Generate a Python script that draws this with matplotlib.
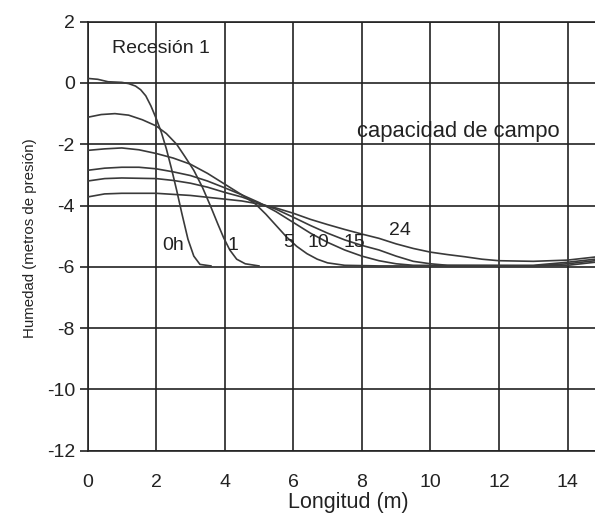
import matplotlib
matplotlib.use("Agg")
import matplotlib.pyplot as plt

plt.rcParams['font.family'] = ['Liberation Sans', 'DejaVu Sans']
plt.rcParams['axes.unicode_minus'] = False

# perfiles de humedad a distintos tiempos (h)
x_0h = [0, 0.3, 0.6, 1.0, 1.2, 1.4, 1.55, 1.7, 1.85, 2.0, 2.15, 2.3, 2.45, 2.6, 2.75, 2.93, 3.1, 3.28, 3.6]
y_0h = [0.15, 0.12, 0.04, 0.02, -0.02, -0.1, -0.22, -0.42, -0.75, -1.15, -1.6, -2.15, -2.8, -3.5, -4.25,
        -5.1, -5.65, -5.92, -5.97]

x_1 = [0, 0.4, 0.8, 1.2, 1.6, 2.0, 2.3, 2.6, 2.84, 3.1, 3.35, 3.6, 3.8, 3.97, 4.15, 4.35, 4.6, 5.0]
y_1 = [-1.12, -1.03, -1.0, -1.05, -1.2, -1.4, -1.65, -2.0, -2.4, -2.85, -3.4, -4.05, -4.6, -5.05, -5.45,
       -5.75, -5.9, -5.97]

x_5 = [0, 0.5, 1.0, 1.5, 2.0, 2.5, 3.0, 3.5, 4.0, 4.5, 4.9, 5.2, 5.5, 5.8, 6.1, 6.4, 6.7, 7.0, 7.5, 8.5,
       13.0, 14.0, 14.8]
y_5 = [-2.2, -2.15, -2.12, -2.18, -2.3, -2.45, -2.65, -2.95, -3.3, -3.65, -3.95, -4.28, -4.65, -5.02, -5.33,
       -5.57, -5.75, -5.87, -5.95, -5.97, -5.97, -5.95, -5.85]

x_10 = [0, 0.5, 1.0, 1.5, 2.0, 2.5, 3.0, 3.5, 4.0, 4.5, 5.0, 5.5, 6.0, 6.5, 7.0, 7.5, 8.0, 8.5, 9.0, 9.5,
        13.0, 14.0, 14.8]
y_10 = [-2.85, -2.78, -2.75, -2.75, -2.8, -2.9, -3.02, -3.2, -3.42, -3.65, -3.9, -4.2, -4.55, -4.9, -5.2,
        -5.45, -5.65, -5.8, -5.9, -5.95, -5.97, -5.9, -5.8]

x_15 = [0, 0.5, 1.0, 2.0, 2.5, 3.0, 3.5, 4.0, 4.5, 5.0, 5.5, 6.0, 6.5, 7.0, 7.5, 8.0, 8.5, 9.0, 9.5, 10.0,
        10.5, 13.0, 14.0, 14.8]
y_15 = [-3.2, -3.12, -3.1, -3.12, -3.18, -3.27, -3.4, -3.57, -3.72, -3.92, -4.12, -4.38, -4.65, -4.9, -5.12,
        -5.3, -5.45, -5.65, -5.82, -5.9, -5.95, -5.95, -5.85, -5.75]

x_24 = [0, 0.5, 1.0, 2.0, 3.0, 4.0, 4.5, 5.0, 5.5, 6.0, 6.5, 7.0, 7.5, 8.0, 8.5, 9.0, 9.5, 10.0, 10.5,
        11.0, 11.5, 12.0, 13.0, 14.0, 14.8]
y_24 = [-3.72, -3.62, -3.6, -3.6, -3.67, -3.79, -3.85, -3.95, -4.08, -4.25, -4.45, -4.62, -4.78, -4.93,
        -5.07, -5.25, -5.4, -5.52, -5.6, -5.67, -5.75, -5.8, -5.82, -5.78, -5.68]

curves = [(x_0h, y_0h), (x_1, y_1), (x_5, y_5), (x_10, y_10), (x_15, y_15), (x_24, y_24)]

# etiquetas de cada curva
curve_labels = ['0h', '1', '5', '10', '15', '24']
label_x = [2.49, 4.23, 5.87, 6.72, 7.77, 9.11]
label_y = [-5.3, -5.3, -5.2, -5.2, -5.2, -4.8]

x_ticks = [0, 2, 4, 6, 8, 10, 12, 14]
y_ticks = [2, 0, -2, -4, -6, -8, -10, -12]

fig = plt.figure(figsize=(5.95, 5.13), dpi=100)
ax = fig.add_axes([87.5 / 595, 1 - 450.7 / 513, 507.5 / 595, 429 / 513])

for xs, ys in curves:
    ax.plot(xs, ys, color='#3a3a3a', lw=1.2, zorder=3)

for t, tx, ty in zip(curve_labels, label_x, label_y):
    ax.text(tx, ty, t, fontsize=14, ha='center', va='center', color='#222222', zorder=4)

ax.text(0.71, 1.14, 'Recesión 1', fontsize=14, ha='left', va='center', color='#222222')
ax.text(7.86, -1.59, 'capacidad de campo', fontsize=15.8, ha='left', va='center', color='#222222')

ax.set_xlim(0, 14.8)
ax.set_ylim(-12, 2)
ax.set_xticks(x_ticks)
ax.set_yticks(y_ticks)
ax.set_xticklabels([str(v) for v in x_ticks])
ax.set_yticklabels([str(v) for v in y_ticks])
ax.tick_params(axis='x', length=0, pad=17, labelsize=14, labelcolor='#222222')
ax.tick_params(axis='y', length=6, width=1.2, pad=3, labelsize=14, labelcolor='#222222', color='#222222')

ax.grid(True, color='#222222', lw=1.2)
ax.set_axisbelow(True)
for side in ['left', 'top', 'bottom']:
    ax.spines[side].set_color('#222222')
    ax.spines[side].set_linewidth(1.2)
ax.spines['right'].set_visible(False)

ax.set_xlabel('Longitud (m)', fontsize=15.5, color='#222222')
ax.xaxis.set_label_coords(0.513, -0.097)
ax.set_ylabel('Humedad (metros de presión)', fontsize=10.8, color='#222222')
ax.yaxis.set_label_coords(-0.1, 0.496)

fig.savefig('out.png', dpi=100)
